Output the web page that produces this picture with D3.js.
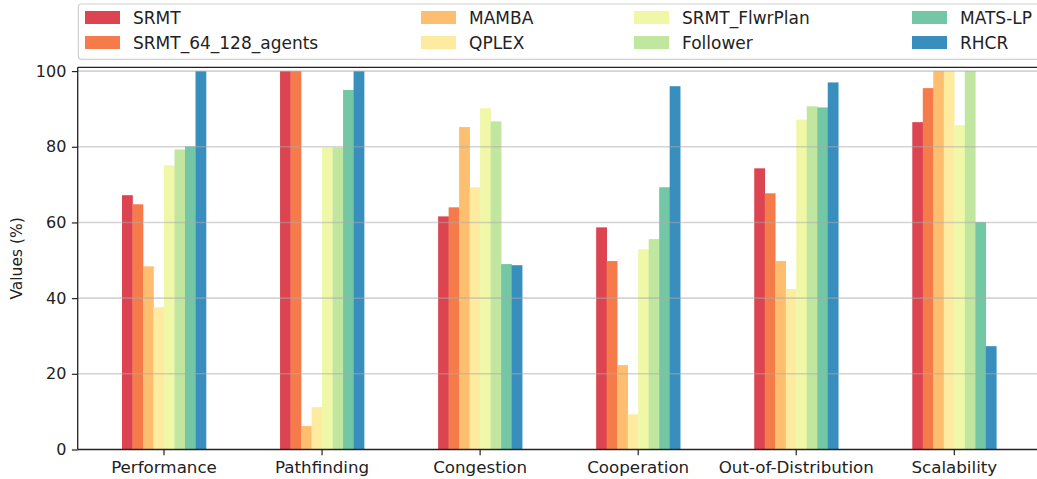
<!DOCTYPE html>
<html>
<head>
<meta charset="utf-8">
<script src="https://cdn.jsdelivr.net/npm/d3@7"></script>
<style>
  html, body { margin: 0; padding: 0; background: #fff; overflow: hidden; width: 1037px; height: 479px; }
  svg { display: block; overflow: hidden; font-family: "DejaVu Sans", sans-serif; }
</style>
</head>
<body>
<svg id="chart" width="1037" height="479" viewBox="0 0 1037 479"></svg>
<script>
const categories = ["Performance", "Pathfinding", "Congestion", "Cooperation", "Out-of-Distribution", "Scalability"];
const seriesNames = ["SRMT", "SRMT_64_128_agents", "MAMBA", "QPLEX", "SRMT_FlwrPlan", "Follower", "MATS-LP", "RHCR"];
const SRMT              = [67.2, 100, 61.6, 58.7, 74.3, 86.5];
const SRMT_64_128_agents= [64.8, 100, 64.0, 49.8, 67.7, 95.5];
const MAMBA             = [48.4, 6.2, 85.2, 22.3, 49.8, 100];
const QPLEX             = [37.6, 11.2, 69.3, 9.3, 42.4, 100];
const SRMT_FlwrPlan     = [75.1, 79.8, 90.2, 52.9, 87.2, 85.7];
const Follower          = [79.3, 79.8, 86.7, 55.6, 90.7, 100];
const MATS_LP           = [80.1, 95.0, 49.0, 69.3, 90.4, 60.1];
const RHCR              = [100, 100, 48.7, 96.0, 97.0, 27.3];
const yTicks = [0, 20, 40, 60, 80, 100];
const colors = ["#db4450", "#f57c4a", "#fdbe6f", "#feeba0", "#f0f8a8", "#c1e6a0", "#74c7a5", "#388ebc"];

const seriesValues = [SRMT, SRMT_64_128_agents, MAMBA, QPLEX, SRMT_FlwrPlan, Follower, MATS_LP, RHCR];

(function () {
const svg = d3.select("#chart");
const W = 1037;
const pL = 77.7, pR = 1040.6, pT = 67.3, pB = 449.5;
const visR = Math.min(pR, W);

const x = d3.scaleBand().domain(categories).range([pL, pR]).paddingInner(0).paddingOuter(0.046);
const groupW = 84;
const xInner = d3.scaleBand().domain(seriesNames).range([-groupW / 2, groupW / 2]).padding(0);
const y = d3.scaleLinear().domain([0, 101]).range([pB, pT]);

// bars
seriesNames.forEach((name, si) => {
  svg.append("g").selectAll("rect")
    .data(categories.map((c, ci) => ({ c, v: seriesValues[si][ci] })))
    .join("rect")
    .attr("x", d => x(d.c) + x.bandwidth() / 2 + xInner(name))
    .attr("y", d => y(d.v))
    .attr("width", xInner.bandwidth() + 0.3)
    .attr("height", d => y(0) - y(d.v))
    .attr("fill", colors[si]);
});

// grid (drawn over bars)
svg.append("g").selectAll("line").data(yTicks.filter(t => t > 0)).join("line")
  .attr("x1", pL).attr("x2", visR)
  .attr("y1", d => y(d)).attr("y2", d => y(d))
  .attr("stroke", "#aaaaaa").attr("stroke-opacity", 0.5).attr("stroke-width", 1.6);

// axes
const yAxis = d3.axisLeft(y).tickValues(yTicks).tickSize(5.8).tickPadding(5.5);
const gy = svg.append("g").attr("transform", `translate(${pL},0)`).call(yAxis);
gy.select(".domain").remove();
gy.selectAll(".tick line").attr("stroke", "#222").attr("stroke-width", 1.2);
gy.selectAll(".tick text").attr("font-size", "16px").attr("fill", "#222").attr("font-family", "DejaVu Sans");

const xAxis = d3.axisBottom(x).tickSize(5.8).tickPadding(5.5);
const gx = svg.append("g").attr("transform", `translate(0,${pB})`).call(xAxis);
gx.select(".domain").remove();
gx.selectAll(".tick line").attr("stroke", "#222").attr("stroke-width", 1.2);
gx.selectAll(".tick text").attr("font-size", "16.7px").attr("fill", "#222").attr("font-family", "DejaVu Sans");

// spines (right spine lies outside the visible area)
const spine = (x1, y1, x2, y2) => svg.append("line").attr("x1", x1).attr("y1", y1).attr("x2", x2).attr("y2", y2)
  .attr("stroke", "#222").attr("stroke-width", 1.3);
spine(pL, pT, pL, pB);
spine(pL, pB, visR, pB);
spine(pL, pT, visR, pT);

// y label
svg.append("text").attr("transform", `translate(17,${(pT + pB) / 2}) rotate(-90)`)
  .attr("text-anchor", "middle").attr("dominant-baseline", "central")
  .attr("font-size", "15.5px").attr("fill", "#222").text("Values (%)");

// legend (its right side runs past the visible edge)
const leg = svg.append("g");
leg.append("path")
  .attr("d", `M${W + 2},4 H81.3 Q78.3,4 78.3,7 V56.3 Q78.3,59.3 81.3,59.3 H${W + 2}`)
  .attr("fill", "#fff").attr("fill-opacity", 0.85).attr("stroke", "#d0d0d0").attr("stroke-width", 1.2);
const colSwatchX = [85, 421, 634, 912];
const rowY = [11, 36];
seriesNames.forEach((name, i) => {
  const col = Math.floor(i / 2), row = i % 2;
  leg.append("rect").attr("x", colSwatchX[col]).attr("y", rowY[row]).attr("width", 35).attr("height", 13).attr("fill", colors[i]);
  leg.append("text").attr("x", colSwatchX[col] + 48).attr("y", rowY[row] + 6.5)
    .attr("dominant-baseline", "central").attr("font-size", "17px").attr("fill", "#222").text(name);
});
})();
</script>
</body>
</html>
